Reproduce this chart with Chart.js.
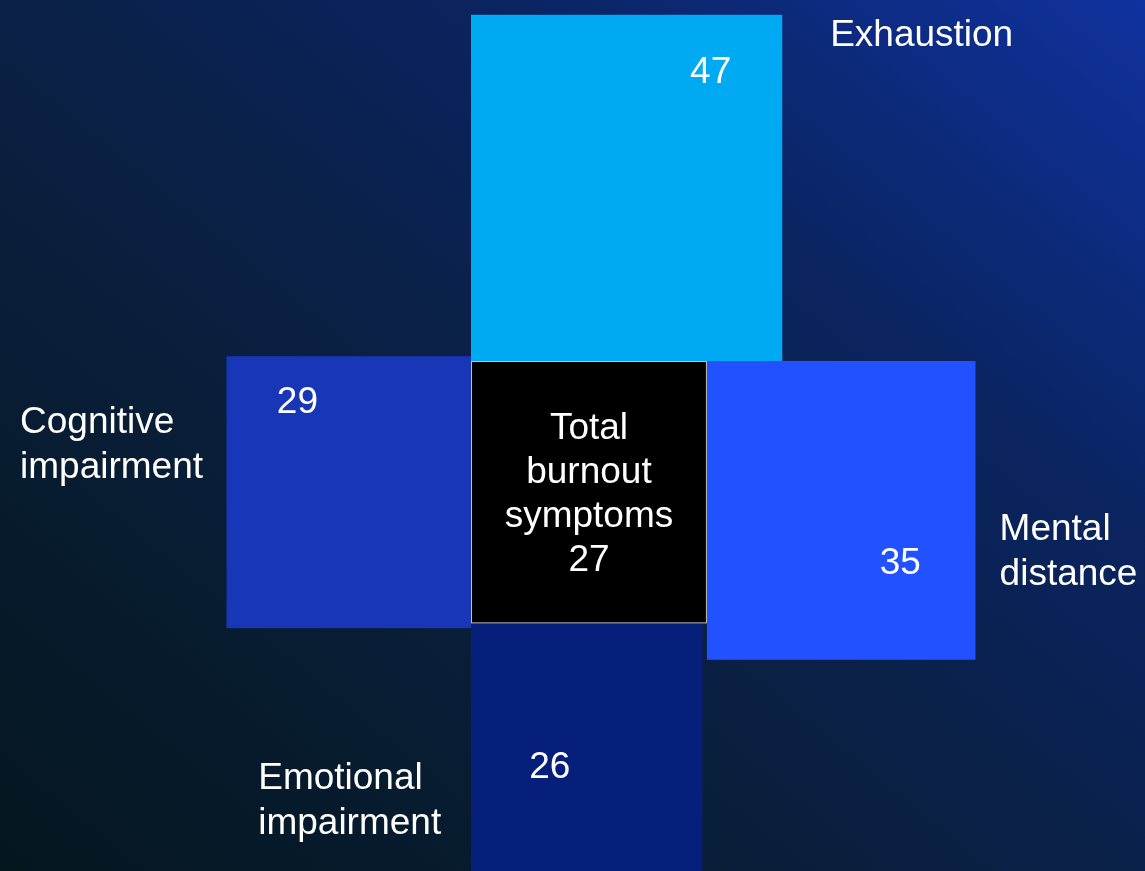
<!DOCTYPE html>
<html>
<head>
<meta charset="utf-8">
<title>Burnout symptoms</title>
<script src="https://cdn.jsdelivr.net/npm/chart.js@4/dist/chart.umd.min.js"></script>
<style>
    html, body { margin: 0; padding: 0; background: #071a2c; overflow: hidden; }
    #wrap { width: 1145px; height: 871px; position: relative; }
</style>
</head>
<body>
<div id="wrap"><canvas id="chart"></canvas></div>
<script>

// Burnout dimensions around the total score
const categories = [ 'Exhaustion', 'Cognitive impairment', 'Mental distance', 'Emotional impairment' ];
const values = [ 47, 29, 35, 26 ];

const totalLabel = [ 'Total', 'burnout', 'symptoms' ];
const totalValue = 27;

const palette = [ '#00aaf2', '#1736b8', '#2251ff', '#061f7a' ];

const FONT = '"Liberation Sans", Arial, sans-serif';

// canvas 'middle' sits a little above the visual centre of the glyphs
const TEXT_NUDGE = 3;

/**
 * Lays out one square per value, side = sqrt( value ), so that
 * the area of each square is proportional to its score.
 * The total square sits at the origin (top-left corner), y grows upward.
 */
function layoutSquares () {

    const s0 = Math.sqrt( totalValue );
    const s = values.map( v => Math.sqrt( v ) );

    return {
        total: { x0: 0, x1: s0, y0: - s0, y1: 0 },
        parts: [
            // above, left aligned
            { x0: 0, x1: s[ 0 ], y0: 0, y1: s[ 0 ] },
            // left, vertically centred on the total
            { x0: - s[ 1 ], x1: 0, y0: - s0 / 2 - s[ 1 ] / 2, y1: - s0 / 2 + s[ 1 ] / 2 },
            // right, top aligned
            { x0: s0, x1: s0 + s[ 2 ], y0: - s[ 2 ], y1: 0 },
            // below, left aligned
            { x0: 0, x1: s[ 3 ], y0: - s0 - s[ 3 ], y1: - s0 }
        ]
    };

}

// where the number sits inside each square (fraction of width / height from top-left)
const valueSpots = [ [ 0.77, 0.16 ], [ 0.29, 0.16 ], [ 0.72, 0.67 ], [ 0.34, 0.55 ] ];

// category captions: left edge and middle of the text block, as fractions of the chart area
const captionSpots = [ [ 0.725, 0.038 ], [ 0.0175, 0.508 ], [ 0.873, 0.631 ], [ 0.2255, 0.917 ] ];

function toPx ( scales, r ) {

    const { x, y } = scales;
    const left = x.getPixelForValue( r.x0 ), right = x.getPixelForValue( r.x1 );
    const top = y.getPixelForValue( r.y1 ), bottom = y.getPixelForValue( r.y0 );

    return { left, top, w: right - left, h: bottom - top };

}

function drawLines ( ctx, lines, x, cy, lh ) {

    const top = cy - ( lines.length - 1 ) * lh / 2 + TEXT_NUDGE;
    lines.forEach( ( l, i ) => ctx.fillText( l, x, top + i * lh ) );

}

const backdrop = {
    id: 'backdrop',
    beforeDraw ( chart ) {

        const { ctx, width, height } = chart;
        const g = ctx.createLinearGradient( 0, height, width * 0.78, - height * 0.25 );

        g.addColorStop( 0, '#04161e' );
        g.addColorStop( 0.38, '#0a1f3c' );
        g.addColorStop( 0.7, '#0a2460' );
        g.addColorStop( 1, '#1032a0' );

        ctx.save();
        ctx.fillStyle = g;
        ctx.fillRect( 0, 0, width, height );
        ctx.restore();

    }
};

const squares = {
    id: 'squares',
    afterDatasetsDraw ( chart ) {

        const { ctx, scales, chartArea: area } = chart;
        const lay = layoutSquares();

        ctx.save();
        ctx.font = `37px ${FONT}`;
        ctx.fillStyle = '#fff';
        ctx.textBaseline = 'middle';

        lay.parts.forEach( ( r, i ) => {

            const p = toPx( scales, r );

            ctx.fillStyle = palette[ i ];
            ctx.fillRect( p.left, p.top, p.w, p.h );

            ctx.fillStyle = '#fff';
            ctx.textAlign = 'center';
            ctx.fillText( String( values[ i ] ),
                p.left + p.w * valueSpots[ i ][ 0 ],
                p.top + p.h * valueSpots[ i ][ 1 ] + TEXT_NUDGE );

        } );

        // total in the middle, on top of the others
        const t = toPx( scales, lay.total );

        ctx.fillStyle = '#000';
        ctx.fillRect( t.left, t.top, t.w, t.h );
        ctx.strokeStyle = '#c4c4c4';
        ctx.lineWidth = 1;
        ctx.strokeRect( t.left + 0.5, t.top + 0.5, t.w - 1, t.h - 1 );

        ctx.fillStyle = '#fff';
        ctx.textAlign = 'center';
        drawLines( ctx, [ ...totalLabel, String( totalValue ) ], t.left + t.w / 2, t.top + t.h / 2, 44 );

        // captions
        ctx.textAlign = 'left';
        categories.forEach( ( c, i ) => {

            const x = area.left + area.width * captionSpots[ i ][ 0 ];
            const y = area.top + area.height * captionSpots[ i ][ 1 ];

            drawLines( ctx, c.split( ' ' ), x, y, 45 );

        } );

        ctx.restore();

    }
};

new Chart( document.getElementById( 'chart' ), {
    type: 'scatter',
    data: { datasets: [] },
    options: {
        responsive: true,
        maintainAspectRatio: false,
        animation: false,
        layout: { padding: 0 },
        plugins: { legend: { display: false }, tooltip: { enabled: false } },
        scales: {
            x: { type: 'linear', display: false, min: - 471 / 45.4, max: 674 / 45.4 },
            y: { type: 'linear', display: false, min: - 510 / 50.5, max: 361 / 50.5 }
        }
    },
    plugins: [ backdrop, squares ]
} );

</script>
</body>
</html>
